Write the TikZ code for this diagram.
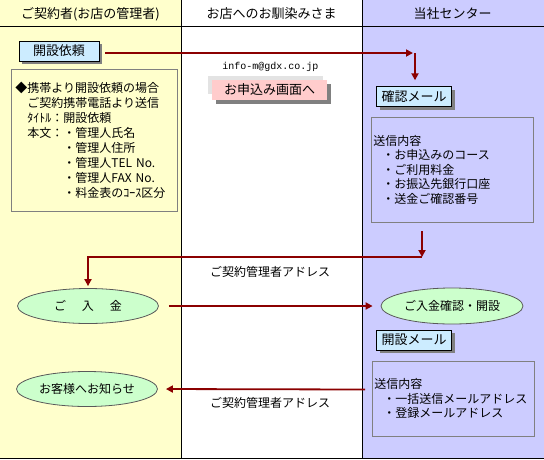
\documentclass[tikz,border=0pt]{standalone}
\usepackage{fontspec}
\setmainfont{Noto Sans CJK JP}
\newfontfamily\mailfont{Liberation Mono}
\usetikzlibrary{arrows.meta,shadows,shapes.geometric}

\definecolor{laneyellow}{HTML}{FFFFCC}
\definecolor{lanelavender}{HTML}{CCCCFF}
\definecolor{boxblue}{HTML}{CCECFF}
\definecolor{btnpink}{HTML}{FFCCCC}
\definecolor{ovalgreen}{HTML}{CCFFCC}
\definecolor{flowred}{HTML}{8B0000}

\begin{document}
\begin{tikzpicture}[x=1pt, y=-1pt,
    every node/.style={inner sep=0pt, font=\fontsize{12}{14.5}\selectfont},
    header/.style={font=\fontsize{13}{15}\selectfont},
    labelbox/.style={draw=black, fill=boxblue, minimum width=75pt, minimum height=20pt,
        font=\fontsize{13}{15}\selectfont,
        drop shadow={shadow xshift=3pt, shadow yshift=-3pt, fill=gray, opacity=1}},
    button/.style={fill=btnpink, minimum width=115pt, minimum height=20pt,
        font=\fontsize{13}{15}\selectfont,
        drop shadow={shadow xshift=4pt, shadow yshift=-4pt, fill=gray, opacity=1}},
    infobox/.style={draw=gray, line width=0.8pt, align=left, anchor=north west},
    oval/.style={ellipse, draw=gray!70!black, line width=0.8pt, fill=ovalgreen,
        minimum width=141pt, minimum height=35pt},
    flow/.style={draw=flowred, line width=1.8pt, -{Triangle[width=7pt,length=7pt]}},
    ]
    \useasboundingbox (0,0) rectangle (544,459);

    % lanes
    \fill[laneyellow] (0,0) rectangle (181,458);
    \fill[lanelavender] (362,0) rectangle (544,458);
    \draw[line width=1pt] (0,26) -- (544,26);
    \draw[line width=1pt] (0,458) -- (544,458);
    \draw[line width=1pt] (181,0) -- (181,458);
    \draw[line width=1pt] (362,0) -- (362,458);

    \node[header] (hdrcust) at (90.5,14) {ご契約者(お店の管理者)};
    \node[header] (hdrguest) at (271.5,14) {お店へのお馴染みさま};
    \node[header] (hdrcenter) at (452.5,14) {当社センター};

    % customer side
    \node[labelbox, minimum width=80pt] (irai) at (59,51) {開設依頼};
    \node[infobox, text width=158pt, inner xsep=4pt, minimum height=142pt,
        font=\fontsize{12}{15}\selectfont]
        (keitai) at (11,69) {◆携帯より開設依頼の場合\\
        　ご契約携帯電話より送信\\
        　ﾀｲﾄﾙ：開設依頼\\
        　本文：・管理人氏名\\
        　　　　・管理人住所\\
        　　　　・管理人TEL No.\\
        　　　　・管理人FAX No.\\
        　　　　・料金表のｺｰｽ区分};
    \node[oval] (nyukin) at (88,306) {ご\hspace{16pt}入\hspace{16pt}金};
    \node[oval] (oshirase) at (87,389) {お客様へお知らせ};

    % guest side
    \node[font=\mailfont\fontsize{10}{12}\selectfont] (mail) at (270.5,67) {info-m@gdx.co.jp};
    \fill[gray!22] (208,76) rectangle (323,94);
    \node[button] (moushikomi) at (269.5,90) {お申込み画面へ};
    \node (addr1) at (270,272) {ご契約管理者アドレス};
    \node (addr2) at (270,403) {ご契約管理者アドレス};

    % center side
    \node[labelbox] (kakunin) at (414,96.5) {確認メール};
    \node[infobox, text width=158pt, inner xsep=2pt, minimum height=105pt]
        (naiyou1) at (371,117) {送信内容\\
        \hspace*{9pt}・お申込みのコース\\
        \hspace*{9pt}・ご利用料金\\
        \hspace*{9pt}・お振込先銀行口座\\
        \hspace*{9pt}・送金ご確認番号};
    \node[oval, minimum width=142pt, minimum height=36pt] (kaisetsu) at (452,306) {ご入金確認・開設};
    \node[labelbox] (kaimail) at (414,340) {開設メール};
    \node[infobox, text width=157.5pt, inner xsep=2.5pt, minimum height=75pt]
        (naiyou2) at (371.5,361) {送信内容\\
        \hspace*{9pt}・一括送信メールアドレス\\
        \hspace*{9pt}・登録メールアドレス};

    % flow arrows
    \coordinate (turn1) at (415,53);
    \coordinate (drop2) at (422,231);
    \coordinate (turn2) at (422,257);
    \coordinate (start4) at (365,389.5);
    \draw[flow, shorten <=6pt, shorten >=2pt] (irai.east |- turn1) -- (turn1);
    \draw[flow, shorten >=6pt] (turn1) -- (turn1 |- kakunin.north);
    \draw[flow] (drop2) -- (turn2);
    \draw[flow, shorten >=2pt] (turn2) -| (nyukin.north);
    \draw[flow, shorten <=10pt, shorten >=8pt] (nyukin.east) -- (kaisetsu.west);
    \draw[flow, shorten >=8pt] (start4) -- (oshirase.east);

\end{tikzpicture}
\end{document}
